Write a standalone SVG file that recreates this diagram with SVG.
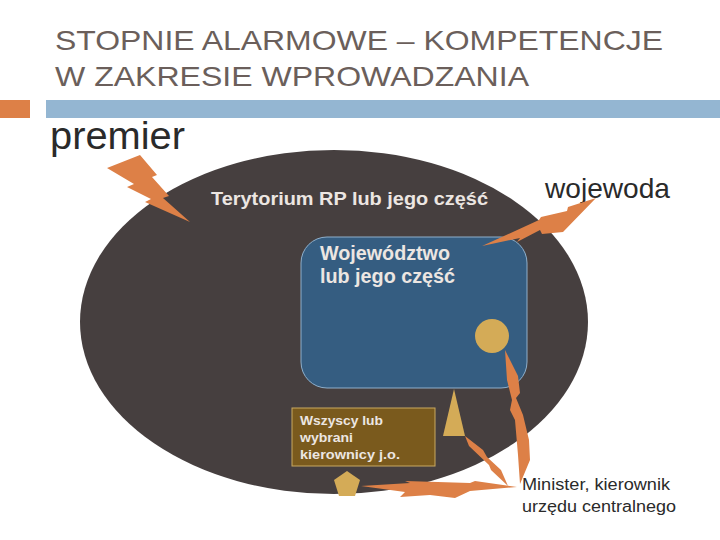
<svg xmlns="http://www.w3.org/2000/svg" width="720" height="540" viewBox="0 0 720 540">
<style>
.title{font-family:"Liberation Sans",Arial,sans-serif;font-size:28px;fill:#6b5f5b}
.bolt{fill:#dd8047}
.lbl{font-family:"Liberation Sans",Arial,sans-serif;font-weight:bold;fill:#ece6e2}
.dark{font-family:"Liberation Sans",Arial,sans-serif;fill:#2a2a2a}
.gold{fill:#d4ab57}
</style>
<rect width="720" height="540" fill="#ffffff"/>
<g id="title">
<text class="title" x="55" y="50" textLength="608" lengthAdjust="spacingAndGlyphs">STOPNIE ALARMOWE – KOMPETENCJE</text>
<text class="title" x="55" y="86" textLength="474" lengthAdjust="spacingAndGlyphs">W ZAKRESIE WPROWADZANIA</text>
</g>
<g id="bars">
<rect x="0" y="100" width="30" height="18" fill="#dd8047"/>
<rect x="46" y="100" width="674" height="18" fill="#94b6d2"/>
</g>
<g id="territory">
<ellipse cx="334" cy="322" rx="254" ry="172" fill="#463f3f"/>
<text class="lbl" x="211" y="205" font-size="19" textLength="277" lengthAdjust="spacingAndGlyphs">Terytorium RP lub jego część</text>
</g>
<g id="voivodeship">
<rect x="301" y="237" width="226" height="151" rx="26" fill="#355d81" stroke="#8fb0cc" stroke-width="1"/>
<text class="lbl" x="320" y="260" font-size="20" textLength="130" lengthAdjust="spacingAndGlyphs">Województwo</text>
<text class="lbl" x="320" y="283" font-size="20" textLength="135" lengthAdjust="spacingAndGlyphs">lub jego część</text>
</g>
<g id="units">
<rect x="292" y="408" width="143" height="58" fill="#7a5a1d" stroke="#c9a961" stroke-width="1"/>
<text class="lbl" x="300" y="425" font-size="13" textLength="83" lengthAdjust="spacingAndGlyphs">Wszyscy lub</text>
<text class="lbl" x="300" y="442" font-size="13" textLength="53" lengthAdjust="spacingAndGlyphs">wybrani</text>
<text class="lbl" x="300" y="459" font-size="13" textLength="100" lengthAdjust="spacingAndGlyphs">kierownicy  j.o.</text>
</g>
<g id="shapes">
<circle class="gold" cx="492" cy="336" r="17"/>
<polygon class="gold" points="454,389 443,436 465,436"/>
<polygon class="gold" points="347,471 360,480 355,496 339,496 334,480"/>
</g>
<g id="labels">
<text class="dark" x="50" y="149" font-size="39" textLength="135" lengthAdjust="spacingAndGlyphs">premier</text>
<text class="dark" x="545" y="198" font-size="28" textLength="125" lengthAdjust="spacingAndGlyphs">wojewoda</text>
<text class="dark" x="522" y="490" font-size="16" fill="#000" textLength="148" lengthAdjust="spacingAndGlyphs">Minister, kierownik</text>
<text class="dark" x="522" y="512" font-size="16" fill="#000" textLength="154" lengthAdjust="spacingAndGlyphs">urzędu centralnego</text>
</g>
<g id="connectors">
<path class="bolt" d="M107,168 L140,155 L157,175 L152,177 L169,196 L163,198 L190,222 L145,202 L151,199 L127,187 L134,184 Z"/>
<path class="bolt" d="M596,198 L568,207 L567,211 L541,217 L539,220 L482,246 L520,238 L517,242 L540,230 L542,234 L563,232 Z"/>
<path class="bolt" d="M505,350 L518,376 L520,393 L516,398 L523,415 L529,440 L530,460 L520,484 L518,455 L515,420 L510,410 L512,400 L507,380 Z"/>
<path class="bolt" d="M465,436 L483,450 L487,457 L501,470 L508,486 L491,470 L489,465 L469,446 Z"/>
<path class="bolt" d="M361,486 L410,483 L405,481 L470,483 L475,481 L517,487 L470,491 L455,498 L430,495 L400,497 L405,492 Z"/>
</g>
</svg>
